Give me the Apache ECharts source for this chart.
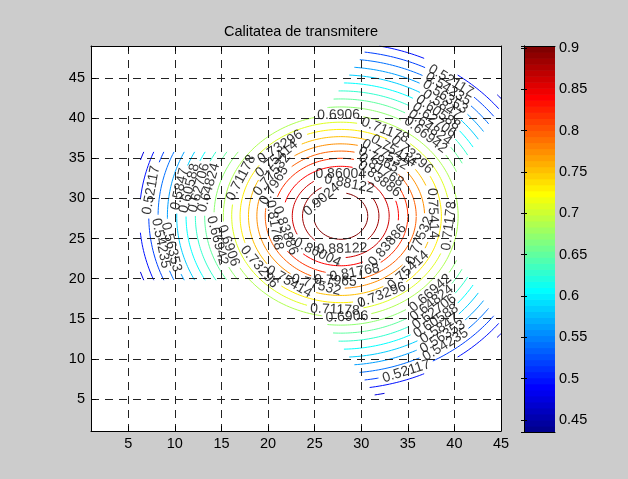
<!DOCTYPE html>
<html><head><meta charset="utf-8">
<script src="https://cdn.jsdelivr.net/npm/echarts/dist/echarts.min.js"></script>
<style>html,body{margin:0;padding:0;background:#cccccc}#c{width:628px;height:479px}</style>
</head><body><div id="c"></div>
<script>
// ---- data ----
const xTicks = [5, 10, 15, 20, 25, 30, 35, 40, 45];
const yTicks = [5, 10, 15, 20, 25, 30, 35, 40, 45];
const cbTicks = [0.45, 0.5, 0.55, 0.6, 0.65, 0.7, 0.75, 0.8, 0.85, 0.9];
const levels = [0.9024, 0.88122, 0.86004, 0.83886, 0.81768, 0.7965, 0.77532, 0.75414, 0.73296, 0.71178, 0.6906,
  0.66942, 0.64824, 0.62706, 0.60588, 0.58471, 0.56353, 0.54235, 0.52117, 0.49999, 0.47881, 0.45763, 0.43645];
const levelText = ['0.9024', '0.88122', '0.86004', '0.83886', '0.81768', '0.7965', '0.77532', '0.75414', '0.73296', '0.71178', '0.6906',
  '0.66942', '0.64824', '0.62706', '0.60588', '0.5847', '0.56353', '0.54235', '0.52117', '0.49999', '0.47881', '0.45763', '0.43645'];
// distance (axis units) of each contour level from the peak
const levelRadius = [2.9, 4.1, 5.2, 6.2, 7.2, 8.1, 9.0, 9.9, 10.8, 11.7, 12.6,
  13.6, 14.6, 15.6, 16.6, 17.6, 18.6, 19.6, 20.6, 21.6, 22.6, 23.6, 24.6];
// where the inline labels sit on each contour (degrees around the peak)
const labelAngles = [[135], [77, 272], [90, 241], [48, 197, 324], [53, 189, 282], [60, 152, 266],
  [58, 145, 253, 340], [55, 134, 236, 317, 2], [45, 127, 216, 294], [66, 156, 267, 354], [91, 197, 273],
  [48, 193, 315], [49, 166, 312], [50, 167, 310], [51, 168, 308], [52, 169, 307], [53, 192, 306],
  [54, 190, 305], [55, 171, 290], [], [], [], []];
// coverage area of the field: peak, core radius, three antenna strips
const peak = [27.8, 27.8];
const coreRadius = 12.9;
const stripAngles = [180, 60, -60];
const stripHalfWidth = 8;
const stripLength = 21.5;
const cMin = 0.4356, cMax = 0.9024;

// ---- layout ----
const G = {left: 91, top: 46, width: 410, height: 385};
const CB = {left: 524, top: 46, width: 31, height: 386};
const X0 = 1, X1 = 45, Y0 = 1, Y1 = 49;
const sx = G.width / (X1 - X0), sy = G.height / (Y1 - Y0);
const FONT = '"Liberation Sans", Arial, Helvetica, sans-serif';
const AX_FS = 14.5, LBL_FS = 14;

function jet(t) {
  const c = v => Math.max(0, Math.min(1, v));
  const r = c(1.5 - Math.abs(4 * t - 3)), g = c(1.5 - Math.abs(4 * t - 2)), b = c(1.5 - Math.abs(4 * t - 1));
  return 'rgb(' + Math.round(r * 255) + ',' + Math.round(g * 255) + ',' + Math.round(b * 255) + ')';
}
function levelColor(v) {
  const t = (v - cMin) / (cMax - cMin);
  const i = Math.min(63, Math.max(0, Math.floor(t * 64)));
  return jet((i + 1) / 64);
}
function inDomain(x, y) {
  if (x < X0 || x > X1 || y < Y0 || y > Y1) return false;
  const dx = x - peak[0], dy = y - peak[1];
  if (Math.hypot(dx, dy) <= coreRadius) return true;
  for (const a of stripAngles) {
    const ux = Math.cos(a * Math.PI / 180), uy = Math.sin(a * Math.PI / 180);
    const along = dx * ux + dy * uy, perp = -dx * uy + dy * ux;
    if (along >= 0 && along <= stripLength && Math.abs(perp) <= stripHalfWidth) return true;
  }
  return false;
}

const series = [];
const labelData = [];
levels.forEach((v, k) => {
  const R = levelRadius[k];
  const pt = th => [peak[0] + R * Math.cos(th), peak[1] + R * Math.sin(th)];
  const gaps = (labelAngles[k] || []).map(a => {
    const th = a * Math.PI / 180;
    const half = levelText[k].length * 3.8 + 2;
    const lp = R * Math.hypot(Math.sin(th) * sx, Math.cos(th) * sy);
    return [th, half / lp];
  });
  const vis = th => {
    const p = pt(th);
    if (!inDomain(p[0], p[1])) return false;
    for (const [g, h] of gaps) {
      let d = ((th - g) % (2 * Math.PI) + 2 * Math.PI) % (2 * Math.PI);
      if (d > Math.PI) d = 2 * Math.PI - d;
      if (d < h) return false;
    }
    return true;
  };
  const N = 720, data = [];
  let prevT = 0, prevV = vis(0);
  if (prevV) data.push(pt(0));
  for (let i = 1; i <= N; i++) {
    const t = i / N * 2 * Math.PI;
    const cur = vis(t);
    if (cur !== prevV) {
      let a = prevT, b = t;
      for (let j = 0; j < 30; j++) { const m = (a + b) / 2; if (vis(m) === prevV) a = m; else b = m; }
      if (prevV) { data.push(pt(a)); data.push(['-', '-']); }
      else { data.push(pt(b)); }
    }
    if (cur) data.push(pt(t));
    prevT = t; prevV = cur;
  }
  series.push({
    type: 'line', xAxisIndex: 0, yAxisIndex: 0, data: data, showSymbol: false, connectNulls: false,
    lineStyle: {color: levelColor(v), width: 1}, silent: true, animation: false, z: 3
  });
  gaps.forEach(([th]) => {
    const p = pt(th);
    if (!inDomain(p[0], p[1])) return;
    let a = Math.atan2(Math.cos(th) * sy, -Math.sin(th) * sx) * 180 / Math.PI;
    if (a > 90) a -= 180;
    if (a <= -90) a += 180;
    labelData.push({value: p, label: {formatter: levelText[k], rotate: a}});
  });
});
series.push({
  type: 'scatter', xAxisIndex: 0, yAxisIndex: 0, data: labelData, symbolSize: 1,
  itemStyle: {color: 'rgba(0,0,0,0)'}, silent: true, animation: false, z: 5,
  label: {show: true, position: 'inside', color: '#000', fontSize: LBL_FS, fontFamily: FONT}
});
// colorbar bands (jet, 64 colours)
const bands = [];
for (let i = 0; i < 64; i++) bands.push([cMin + (cMax - cMin) * i / 64, cMin + (cMax - cMin) * (i + 1) / 64, jet((i + 1) / 64)]);
series.push({
  type: 'custom', xAxisIndex: 2, yAxisIndex: 2, data: bands, silent: true, animation: false,
  renderItem: (params, api) => {
    const p0 = api.coord([0, api.value(0)]), p1 = api.coord([1, api.value(1)]);
    return {type: 'rect', shape: {x: p0[0], y: p1[1], width: p1[0] - p0[0], height: p0[1] - p1[1] + 0.6},
      style: {fill: bands[params.dataIndex][2]}};
  }
});

const blackLine = {show: true, lineStyle: {color: '#000', width: 1}};
const fmt = ticks => v => ticks.some(t => Math.abs(t - v) < 1e-6) ? String(+v.toFixed(4)) : '';
const option = {
  backgroundColor: '#cccccc',
  animation: false,
  title: {text: 'Calitatea de transmitere', left: 296, top: 19, textAlign: 'center',
    textStyle: {fontSize: AX_FS, fontWeight: 'normal', color: '#000', fontFamily: FONT}},
  grid: [
    Object.assign({show: true, backgroundColor: '#fff', borderWidth: 0}, G),
    Object.assign({show: false}, CB)
  ],
  xAxis: [
    {gridIndex: 0, type: 'value', min: X0, max: X1, splitNumber: 9, position: 'bottom', z: 6,
      axisLine: blackLine, axisTick: {inside: true, length: 5, lineStyle: {color: '#000'}},
      axisLabel: {color: '#000', fontSize: AX_FS, fontFamily: FONT, margin: 5, formatter: fmt(xTicks)},
      splitLine: {show: true, showMinLine: false, showMaxLine: false, lineStyle: {color: '#222', type: [8, 6], width: 1}}},
    {gridIndex: 0, type: 'value', min: X0, max: X1, splitNumber: 9, position: 'top', z: 6,
      axisLine: blackLine, axisTick: {inside: true, length: 5, lineStyle: {color: '#000'}},
      axisLabel: {show: false}, splitLine: {show: false}},
    {gridIndex: 1, type: 'value', min: 0, max: 1, position: 'bottom', z: 10,
      axisLine: blackLine, axisTick: {show: false}, axisLabel: {show: false}, splitLine: {show: false}},
    {gridIndex: 1, type: 'value', min: 0, max: 1, position: 'top', z: 10,
      axisLine: blackLine, axisTick: {show: false}, axisLabel: {show: false}, splitLine: {show: false}}
  ],
  yAxis: [
    {gridIndex: 0, type: 'value', min: Y0, max: Y1, splitNumber: 10, position: 'left', z: 6,
      axisLine: blackLine, axisTick: {inside: true, length: 5, lineStyle: {color: '#000'}},
      axisLabel: {color: '#000', fontSize: AX_FS, fontFamily: FONT, margin: 6, formatter: fmt(yTicks)},
      splitLine: {show: true, showMinLine: false, showMaxLine: false, lineStyle: {color: '#222', type: [8, 6], width: 1}}},
    {gridIndex: 0, type: 'value', min: Y0, max: Y1, splitNumber: 10, position: 'right', z: 6,
      axisLine: blackLine, axisTick: {inside: true, length: 5, lineStyle: {color: '#000'}},
      axisLabel: {show: false}, splitLine: {show: false}},
    {gridIndex: 1, type: 'value', min: cMin, max: cMax, splitNumber: 10, position: 'right', z: 10,
      axisLine: blackLine, axisTick: {inside: true, length: 3, lineStyle: {color: '#000'}},
      axisLabel: {color: '#000', fontSize: AX_FS, fontFamily: FONT, margin: 4, formatter: fmt(cbTicks)},
      splitLine: {show: false}},
    {gridIndex: 1, type: 'value', min: cMin, max: cMax, splitNumber: 10, position: 'left', z: 10,
      axisLine: blackLine, axisTick: {inside: true, length: 3, lineStyle: {color: '#000'}},
      axisLabel: {show: false}, splitLine: {show: false}}
  ],
  series: series
};
const chart = echarts.init(document.getElementById('c'), null, {renderer: 'canvas'});
chart.setOption(option);
</script>
</body></html>
